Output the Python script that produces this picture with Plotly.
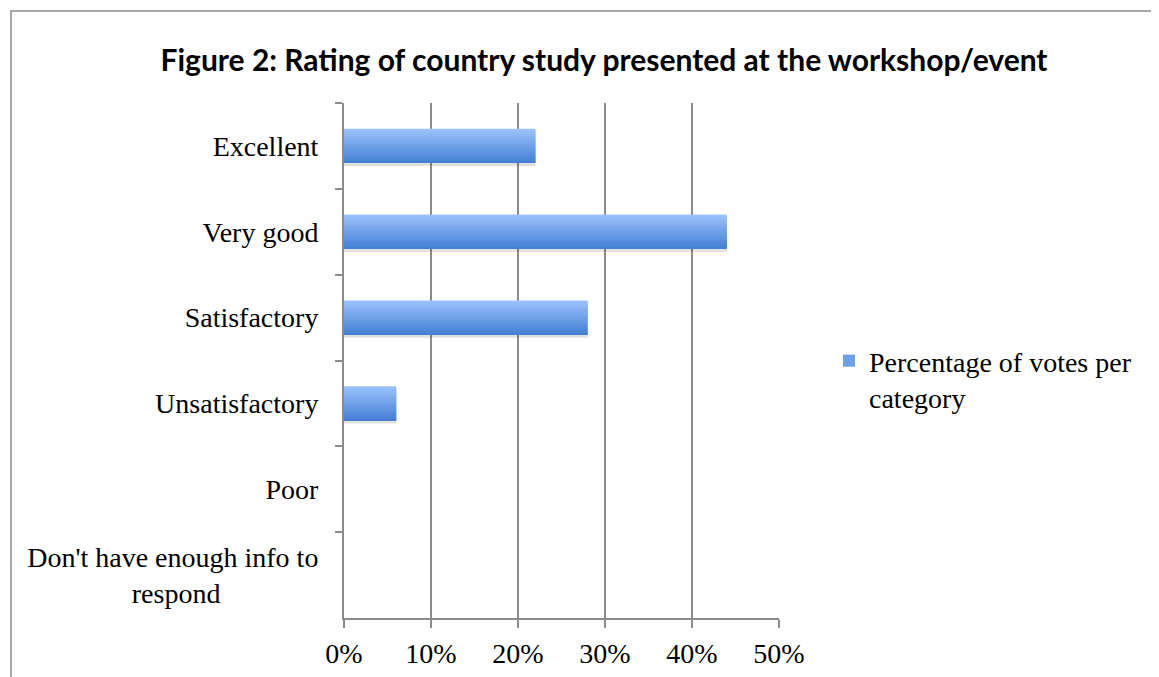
import plotly.graph_objects as go

categories = ["Excellent", "Very good", "Satisfactory", "Unsatisfactory", "Poor",
              "Don't have enough info to<br>respond" + "\u00a0" * 14]
values = [0.22, 0.44, 0.28, 0.06, 0.0, 0.0]
series_name = "Percentage of votes per<br>category"
x_ticks = [0, 0.1, 0.2, 0.3, 0.4, 0.5]
x_tick_labels = ["0%", "10%", "20%", "30%", "40%", "50%"]

W, H = 1159, 677
OFF = 8  # page body margin
L, R, T, B = 344 - OFF, 779 - OFF, 103 - OFF, 618 - OFF

def px_x(p):
    return (p - OFF - L) / (R - L)

def px_y(p):
    return (B - (p - OFF)) / (B - T)

fig = go.Figure()

bar_w = 0.4
# soft shadow
fig.add_trace(go.Bar(y=categories, x=values, orientation="h", width=bar_w,
                     offset=-bar_w / 2 + 0.035, marker=dict(color="rgba(0,0,0,0.12)", line_width=0),
                     showlegend=False, hoverinfo="skip"))

n = 24
top = (155, 193, 252)
bot = (68, 128, 212)
step = bar_w / n
for i in range(n):
    t = i / (n - 1)
    c = tuple(round(top[k] + (bot[k] - top[k]) * t) for k in range(3))
    wdt = step * 2 if i < n - 1 else step
    fig.add_trace(go.Bar(
        y=categories, x=values, orientation="h",
        width=wdt, offset=-bar_w / 2 + i * step,
        marker=dict(color="rgb(%d,%d,%d)" % c, line_width=0),
        name=series_name, showlegend=(i == n // 2), hoverinfo="x+y",
    ))

fig.update_layout(
    width=W, height=H,
    margin=dict(l=L, r=W - R, t=T, b=H - B),
    paper_bgcolor="white", plot_bgcolor="white",
    barmode="overlay", bargap=0.6,
    title=dict(text="<b>Figure 2: Rating of country study presented at the workshop/event</b>",
               x=px_x(604), xanchor="center", xref="paper",
               y=1 - (60 - OFF) / H, yanchor="middle",
               font=dict(family="Lato", size=30, color="black")),
    font=dict(family="Liberation Serif", size=28, color="black"),
    legend=dict(x=px_x(829), y=px_y(336), xanchor="left", yanchor="top", valign="top",
                font=dict(family="Liberation Serif", size=28, color="black"),
                bgcolor="rgba(0,0,0,0)", itemwidth=30),
    showlegend=True,
)

fig.update_xaxes(range=[0, 0.5], tickvals=x_ticks, ticktext=x_tick_labels,
                 showgrid=True, gridcolor="#8c8c8c", gridwidth=2,
                 showline=True, linecolor="#8c8c8c", linewidth=2,
                 ticks="outside", ticklen=8, tickcolor="#8c8c8c", tickwidth=2,
                 ticklabelstandoff=1, zeroline=False, fixedrange=True)
fig.update_yaxes(autorange="reversed", showgrid=False,
                 showline=True, linecolor="#8c8c8c", linewidth=2,
                 ticks="outside", ticklen=7, tickcolor="#8c8c8c", tickwidth=2,
                 tickson="boundaries", ticklabelstandoff=18, fixedrange=True)

fig.add_shape(type="rect", xref="paper", yref="paper",
              x0=px_x(11), x1=px_x(1157), y0=px_y(720), y1=px_y(11),
              line=dict(color="#8c8c8c", width=1.5), fillcolor="rgba(0,0,0,0)", layer="below")

fig.write_html("out.html")
